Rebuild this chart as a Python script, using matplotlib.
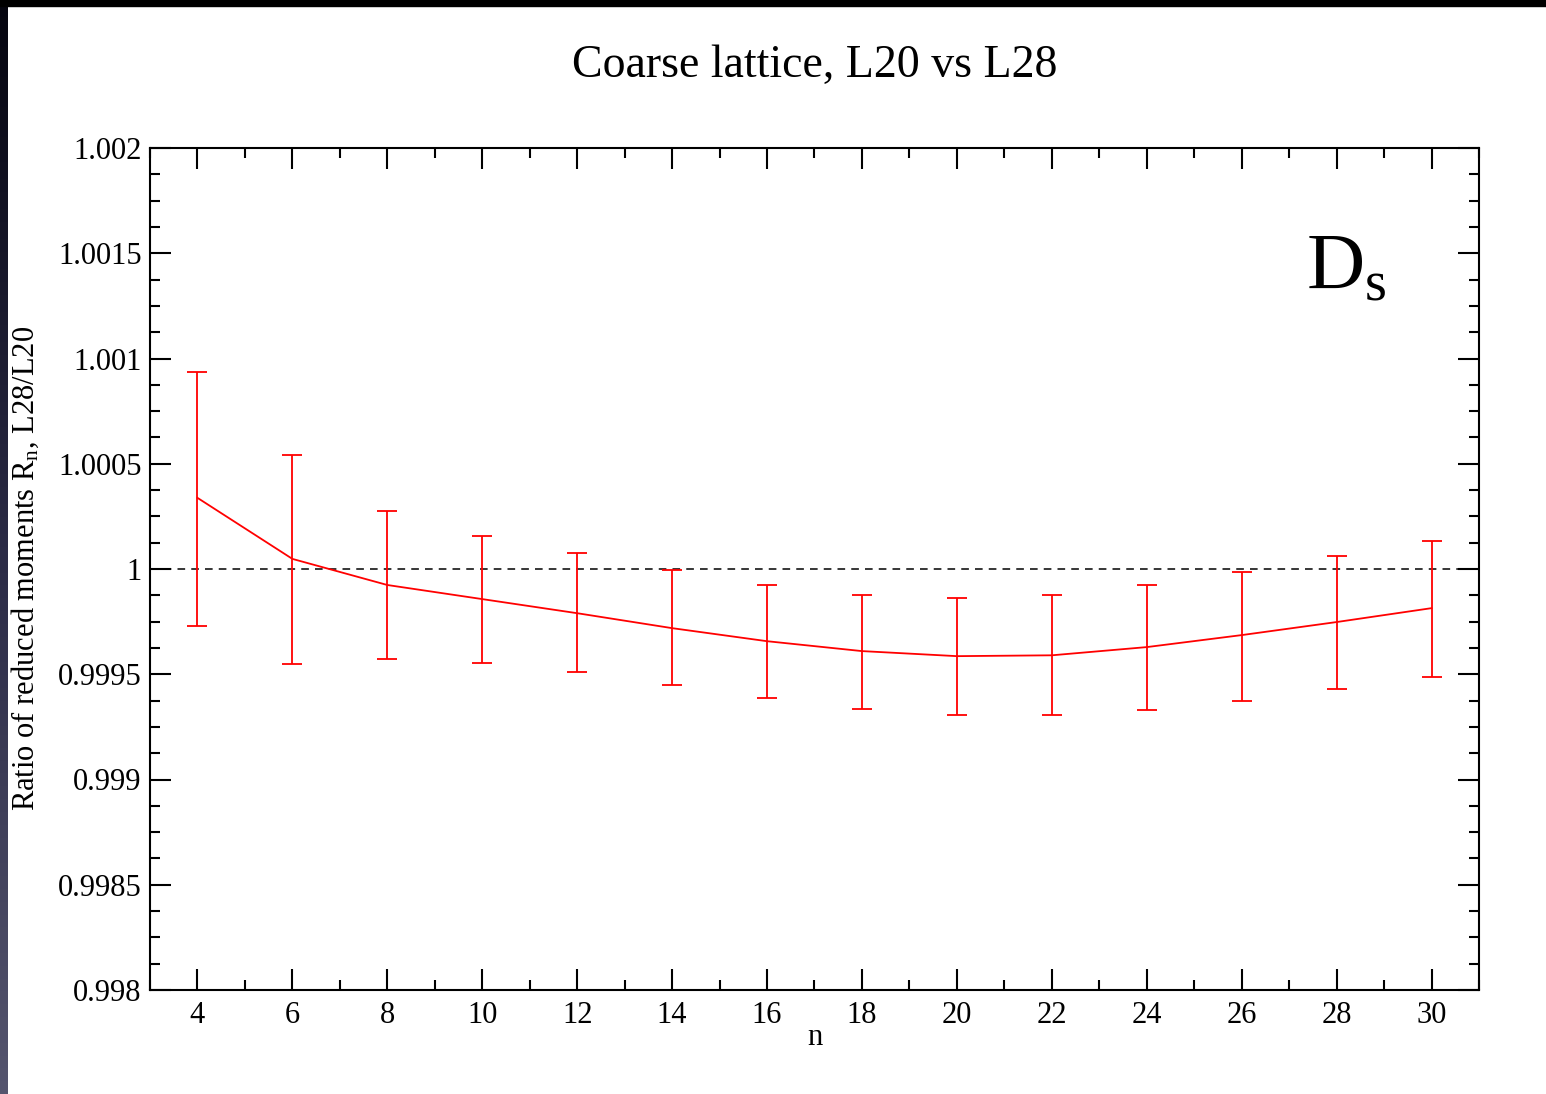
import numpy as np
import matplotlib
matplotlib.use("Agg")
import matplotlib.pyplot as plt
from matplotlib.ticker import MultipleLocator, FixedFormatter, FixedLocator
from matplotlib.colors import LinearSegmentedColormap

# -------------------------------------------------------
# Data
# -------------------------------------------------------

n_values = [4, 6, 8, 10, 12, 14, 16, 18, 20, 22, 24, 26, 28, 30]
ratio = [1.000338, 1.000048, 0.999924, 0.999857, 0.999790, 0.999719, 0.999657,
         0.999610, 0.999586, 0.999590, 0.999629, 0.999686, 0.999748, 0.999814]
err_high = [1.000938, 1.000543, 1.000276, 1.000157, 1.000076, 0.999995, 0.999924,
            0.999876, 0.999862, 0.999876, 0.999924, 0.999986, 1.000062, 1.000133]
err_low = [0.999729, 0.999548, 0.999571, 0.999552, 0.999510, 0.999448, 0.999386,
           0.999333, 0.999305, 0.999305, 0.999329, 0.999371, 0.999429, 0.999486]

y_ticks = [0.998, 0.9985, 0.999, 0.9995, 1.0, 1.0005, 1.001, 1.0015, 1.002]
y_tick_labels = ["0.998", "0.9985", "0.999", "0.9995", "1", "1.0005", "1.001", "1.0015", "1.002"]

# -------------------------------------------------------
# Style
# -------------------------------------------------------

plt.rcParams["font.family"] = ["Liberation Serif", "DejaVu Serif"]
plt.rcParams["mathtext.fontset"] = "custom"
plt.rcParams["mathtext.rm"] = "Liberation Serif"
plt.rcParams["mathtext.it"] = "Liberation Serif"

W, H = 1546, 1094
fig = plt.figure(figsize=(W / 100, H / 100), dpi=100)

# dark frame on top / left edge of the screenshot
edge = fig.add_axes([0, 0, 8 / W, 1])
grad = np.linspace(0, 1, 256).reshape(-1, 1)
cmap = LinearSegmentedColormap.from_list("edge", ["#05050f", "#2a2a45", "#55556e"])
edge.imshow(grad, aspect="auto", cmap=cmap, extent=[0, 1, 0, 1], origin="upper")
edge.axis("off")
fig.patches.append(plt.Rectangle((0, 1 - 6 / H), 1, 6 / H, transform=fig.transFigure,
                                 color="black", zorder=10))

ax = fig.add_axes([150 / W, 1 - 990 / H, (1479 - 150) / W, (990 - 148) / H])

lower = [r - lo for r, lo in zip(ratio, err_low)]
upper = [hi - r for r, hi in zip(ratio, err_high)]

ax.axhline(1.0, color="black", lw=1.1, ls=(0, (5, 4)), zorder=1)
ax.errorbar(n_values, ratio, yerr=[lower, upper], color="red", lw=1.3,
            elinewidth=1.3, capsize=7.5, capthick=1.3, zorder=3)

ax.set_xlim(3, 31)
ax.set_ylim(0.998, 1.002)
ax.xaxis.set_major_locator(MultipleLocator(2))
ax.xaxis.set_minor_locator(MultipleLocator(1))
ax.yaxis.set_major_locator(FixedLocator(y_ticks))
ax.yaxis.set_major_formatter(FixedFormatter(y_tick_labels))
ax.yaxis.set_minor_locator(MultipleLocator(0.000125))

ax.tick_params(which="both", direction="in", top=True, right=True, width=1.5)
ax.tick_params(which="major", length=15, labelsize=22)
ax.tick_params(axis="y", which="major", pad=6)
ax.tick_params(axis="x", which="major", pad=8)
ax.tick_params(which="minor", length=7.5)
for s in ax.spines.values():
    s.set_linewidth(1.5)

fig.text(815 / W, 1 - 77 / H, "Coarse lattice, L20 vs L28", ha="center",
         va="baseline", fontsize=33)
fig.text(815 / W, 1 - 1045 / H, "n", ha="center", va="baseline", fontsize=22)
fig.text(25 / W, 1 - 568 / H, r"Ratio of reduced moments R$_\mathrm{n}$, L28/L20",
         rotation=90, ha="center", va="center", fontsize=22)
fig.text(1306 / W, 1 - 289 / H, r"D$_\mathrm{s}$", ha="left", va="baseline", fontsize=58)

fig.savefig("out.png", dpi=100)
